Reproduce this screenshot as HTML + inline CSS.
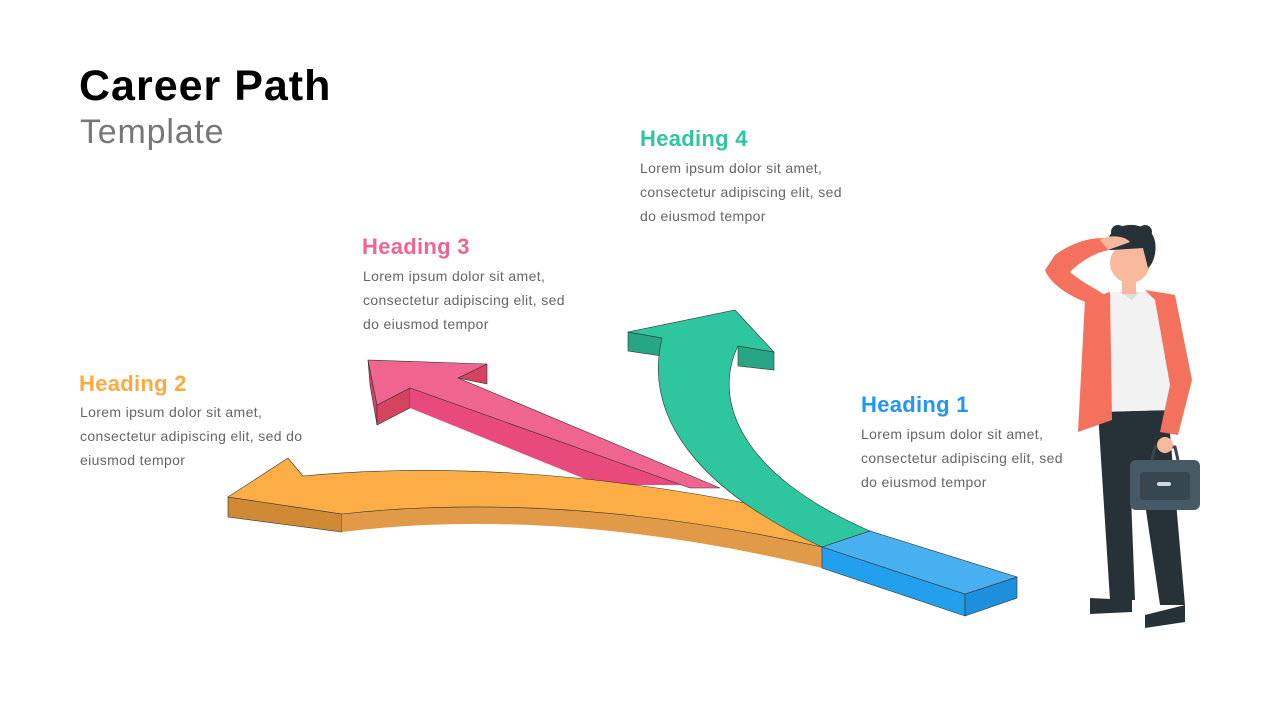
<!DOCTYPE html>
<html><head><meta charset="utf-8"><style>
body{margin:0;width:1280px;height:720px;background:#fff;overflow:hidden;position:relative;font-family:"Liberation Sans",sans-serif}
.t{position:absolute;margin:0;white-space:nowrap}
.h{font-weight:bold;font-size:22px;letter-spacing:0.3px}
.p{font-size:14px;color:#666;line-height:24px;letter-spacing:0.35px}
</style></head><body>
<div class="t" style="left:79px;top:62px;font-size:43px;font-weight:bold;color:#000;letter-spacing:1px">Career Path</div>
<div class="t" style="left:80px;top:113px;font-size:34px;color:#777;letter-spacing:0.8px">Template</div>

<div class="t h" style="left:640px;top:126px;color:#2ec69e">Heading 4</div>
<div class="t p" style="left:640px;top:156px">Lorem ipsum dolor sit amet,<br>consectetur adipiscing elit, sed<br>do eiusmod tempor</div>
<div class="t h" style="left:362px;top:234px;color:#ef6590">Heading 3</div>
<div class="t p" style="left:363px;top:264px">Lorem ipsum dolor sit amet,<br>consectetur adipiscing elit, sed<br>do eiusmod tempor</div>
<div class="t h" style="left:79px;top:371px;color:#fcaa40">Heading 2</div>
<div class="t p" style="left:80px;top:400px">Lorem ipsum dolor sit amet,<br>consectetur adipiscing elit, sed do<br>eiusmod tempor</div>
<div class="t h" style="left:861px;top:392px;color:#2196f3">Heading 1</div>
<div class="t p" style="left:861px;top:422px">Lorem ipsum dolor sit amet,<br>consectetur adipiscing elit, sed<br>do eiusmod tempor</div>

<svg width="1280" height="720" style="position:absolute;left:0;top:0">
<g stroke="#333" stroke-width="0.6">
<path d="M368,360 L377,405 L377,425 L370,385 Z" fill="#d4435f"/>
<path d="M377,405 L410,388 L410,408 L377,425 Z" fill="#d4435f"/>
<path d="M410,388 L690,485 L600,485 L410,408 Z" fill="#e84a7e" stroke="none"/>
<path d="M458,378 L487,364 L487,384 Z" fill="#d4435f"/>
<path d="M368,360 L487,364 L458,378 L720,488 L690,488 L410,388 L377,405 Z" fill="#ef6590"/>
</g>
<g stroke="#333" stroke-width="0.6">
<path d="M228,497 L342,514 L342,532 L228,517 Z" fill="#d08a36"/>
<path d="M342,514 Q560,490 822,547 L822,568 Q560,505 342,532 Z" fill="#e09a48" stroke="none"/>
<path d="M228,497 L288,458 L303,476 Q560,452 870,531 L822,547 Q560,490 342,514 Z" fill="#fdad45"/>
</g>
<g stroke="#333" stroke-width="0.6">
<path d="M628,332 L662,338 L662,356 L628,351 Z" fill="#27a584"/>
<path d="M738,346 L774,352 L774,370 L738,366 Z" fill="#27a584"/>
<path d="M822,547 C720,500 640,430 662,338 L628,332 L735,310 L774,352 L738,346 C712,400 740,475 870,531 Z" fill="#2ec69e"/>
</g>
<g stroke="#333" stroke-width="0.6">
<path d="M822,547 L965,594 L965,616 L822,568 Z" fill="#22a0ee"/>
<path d="M965,594 L1017,577 L1017,598 L965,616 Z" fill="#1e8fdc"/>
<path d="M822,547 L870,531 L1017,577 L965,594 Z" fill="#48b0f0"/>
</g>
<g>
<path d="M1098,412 L1110,600 L1135,600 L1130,470 L1140,470 L1160,605 L1185,605 L1168,410 Z" fill="#263238"/>
<path d="M1090,598 L1132,600 L1132,612 L1090,614 Z" fill="#263238"/>
<path d="M1145,615 L1185,605 L1185,622 L1145,628 Z" fill="#263238"/>
<path d="M1055,255 C1075,240 1100,235 1112,240 L1110,250 C1095,252 1080,262 1070,272 C1085,285 1100,290 1108,298 L1095,305 C1075,300 1050,285 1045,270 Z" fill="#f4715e"/>
<path d="M1105,292 L1170,292 L1172,410 L1100,412 Z" fill="#f2f2f2"/>
<path d="M1085,300 L1110,292 L1112,420 L1078,432 Z" fill="#f4715e"/>
<path d="M1145,290 L1175,295 L1192,380 L1178,435 L1160,432 L1170,385 L1155,300 Z" fill="#f4715e"/>
<path d="M1120,292 L1140,292 L1132,300 Z" fill="#ddd"/>
<circle cx="1130" cy="263" r="20" fill="#f7b89b"/>
<rect x="1122" y="278" width="14" height="16" fill="#f7b89b"/>
<path d="M1108,250 C1103,228 1130,218 1148,230 C1160,238 1156,262 1148,268 L1143,248 L1112,250 Z" fill="#263238"/>
<circle cx="1118" cy="232" r="7" fill="#263238"/>
<circle cx="1145" cy="232" r="7" fill="#263238"/>
<path d="M1100,240 C1110,234 1125,236 1130,242 L1108,250 Z" fill="#f7b89b"/>
<rect x="1130" y="460" width="70" height="50" rx="6" fill="#455a64"/>
<rect x="1140" y="472" width="50" height="28" rx="3" fill="#37474f"/>
<rect x="1157" y="482" width="14" height="4" rx="2" fill="#cfd8dc"/>
<path d="M1152,460 L1155,447 L1175,447 L1178,460" fill="none" stroke="#37474f" stroke-width="3"/>
<circle cx="1165" cy="445" r="8" fill="#f7b89b"/>
</g>
</svg>
</body></html>
